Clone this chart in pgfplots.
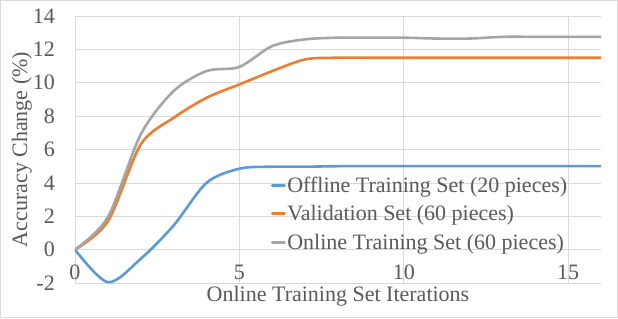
\documentclass[border=0pt]{standalone}
\usepackage{fontspec}
\setmainfont{Liberation Serif}
\usepackage{pgfplots}
\pgfplotsset{compat=1.18}
\definecolor{cblue}{HTML}{5B9BD5}
\definecolor{corange}{HTML}{ED7D31}
\definecolor{cgray}{HTML}{A5A5A5}
\definecolor{gridc}{HTML}{D9D9D9}
\definecolor{txt}{HTML}{595959}
\newcommand\fs{\fontsize{22bp}{26bp}\selectfont}
\begin{document}
\begin{tikzpicture}[x=1bp,y=1bp]
\begin{axis}[at={(0,0)}, anchor=south west, scale only axis,
  width=526bp, height=267bp,
  xmin=0, xmax=16, ymin=-2, ymax=14,
  xtick={0,5,10,15}, xticklabels={0,5,10,15},
  ytick={-2,0,2,4,6,8,10,12,14}, yticklabels={-2,0,2,4,6,8,10,12,14},
  axis line style={draw=none}, major tick length=0pt,
  grid=major, grid style={gridc, line width=0.75bp},
  extra y ticks={0}, extra y tick labels={},
  extra y tick style={grid style={gridc, line width=1.3bp}},
  ticklabel style={font=\fs, text=txt},
  yticklabel style={anchor=east, inner sep=0pt, xshift=-20bp},
  xticklabel style={anchor=center, inner sep=0pt, yshift=11bp},
  xlabel={Online Training Set Iterations},
  ylabel={Accuracy Change (\%)},
  xlabel style={at={(axis description cs:0.5,-0.0487)}, anchor=center, font=\fs, text=txt, inner sep=0pt},
  ylabel style={at={(axis description cs:-0.1008,0.5)}, anchor=center, font=\fs, text=txt, inner sep=0pt},
  legend cell align=left,
  legend style={at={(axis cs:5.95,4.45)}, anchor=north west, draw=none, fill=none,
    font=\fs, text=txt, inner sep=0pt, row sep=8.5bp,
    nodes={inner sep=1.5bp}},
  legend image code/.code={\draw[#1, line width=3bp] (0bp,0bp) -- (12bp,0bp);},
  every axis plot/.append style={line width=2.6bp, smooth, tension=0.5, line join=round, line cap=round},
]
\addplot[cblue] coordinates {(0,0)(1,-1.95)(2,-0.55)(3,1.45)(4,4.0)(5,4.85)(6,4.97)(7,4.97)(8,5)(9,5)(10,5)(11,5)(12,5)(13,5)(14,5)(15,5)(16,5)};
\addlegendentry{Offline Training Set (20 pieces)}
\addplot[corange] coordinates {(0,0)(1,1.7)(2,6.3)(3,7.9)(4,9.1)(5,9.9)(6,10.7)(7,11.4)(8,11.5)(9,11.5)(10,11.5)(11,11.5)(12,11.5)(13,11.5)(14,11.5)(15,11.5)(16,11.5)};
\addlegendentry{Validation Set (60 pieces)}
\addplot[cgray] coordinates {(0,0)(1,1.95)(2,6.9)(3,9.5)(4,10.7)(5,10.95)(6,12.2)(7,12.6)(8,12.7)(9,12.7)(10,12.7)(11,12.65)(12,12.65)(13,12.75)(14,12.75)(15,12.75)(16,12.75)};
\addlegendentry{Online Training Set (60 pieces)}
\end{axis}
\draw[gridc, line width=0.75bp] (-74.5,-34.5) rectangle (542.5,282.5);
\pgfresetboundingbox
\useasboundingbox (-75,-35) rectangle (543,283);
\end{tikzpicture}
\end{document}
